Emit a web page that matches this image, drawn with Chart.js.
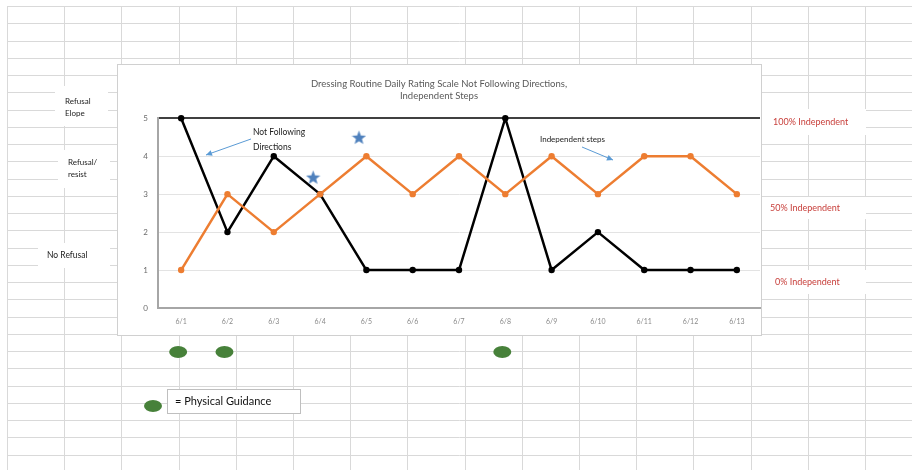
<!DOCTYPE html>
<html><head><meta charset="utf-8">
<script src="https://cdn.jsdelivr.net/npm/chart.js@4/dist/chart.umd.min.js"></script>
<style>html,body{margin:0;padding:0;background:#fff;overflow:hidden}#wrap{position:relative;width:912px;height:470px}</style>
</head><body><div id="wrap"><canvas id="c" width="912" height="470"></canvas></div>
<script>
// ---- data ----
const days = ['6/1','6/2','6/3','6/4','6/5','6/6','6/7','6/8','6/9','6/10','6/11','6/12','6/13'];
const notFollowingDirections = [5,2,4,3,1,1,1,5,1,2,1,1,1];
const independentSteps = [1,3,2,3,4,3,4,3,4,3,4,4,3];
const yTickValues = [0,1,2,3,4,5];
const starDayPos = [2.85, 3.84];
const starRating = [3.45, 4.5];
const physicalGuidanceDays = [0, 1, 7];
const titleLines = ['Dressing Routine Daily Rating Scale Not Following Directions,', 'Independent Steps'];

const FONT = 'Lato, "Open Sans", sans-serif';

function makeStar(size, color) {
  const c = document.createElement('canvas');
  c.width = c.height = size;
  const g = c.getContext('2d');
  g.fillStyle = color;
  g.beginPath();
  for (let i = 0; i < 10; i++) {
    const r = i % 2 ? size * 0.21 : size * 0.5;
    const a = -Math.PI / 2 + i * Math.PI / 5;
    g.lineTo(size / 2 + r * Math.cos(a), size * 0.55 + r * Math.sin(a));
  }
  g.closePath();
  g.fill();
  return c;
}
const starImg = makeStar(15, '#4f81bd');

function rectWhite(ctx, x, y, w, h, border) {
  ctx.fillStyle = '#fff';
  ctx.fillRect(x, y, w, h);
  if (border) {
    ctx.strokeStyle = border; ctx.lineWidth = 1;
    ctx.strokeRect(x + 0.5, y + 0.5, w - 1, h - 1);
  }
}
function arrow(ctx, x1, y1, x2, y2, color) {
  ctx.save();
  ctx.strokeStyle = color; ctx.fillStyle = color; ctx.lineWidth = 1;
  ctx.beginPath(); ctx.moveTo(x1, y1); ctx.lineTo(x2, y2); ctx.stroke();
  const a = Math.atan2(y2 - y1, x2 - x1), L = 6, W = 3;
  ctx.beginPath();
  ctx.moveTo(x2, y2);
  ctx.lineTo(x2 - L * Math.cos(a) + W * Math.sin(a), y2 - L * Math.sin(a) - W * Math.cos(a));
  ctx.lineTo(x2 - L * Math.cos(a) - W * Math.sin(a), y2 - L * Math.sin(a) + W * Math.cos(a));
  ctx.closePath(); ctx.fill();
  ctx.restore();
}
function text(ctx, s, x, y, size, color, align, weight) {
  ctx.font = (weight || 'normal') + ' ' + size + 'px ' + FONT;
  ctx.fillStyle = color; ctx.textAlign = align || 'left'; ctx.textBaseline = 'middle';
  ctx.fillText(s, x, y);
}

const sheetPlugin = {
  id: 'sheet',
  beforeDraw(chart) {
    const ctx = chart.ctx;
    ctx.save();
    ctx.fillStyle = '#fff'; ctx.fillRect(0, 0, 912, 470);
    ctx.strokeStyle = '#d9d9d9'; ctx.lineWidth = 1;
    for (let k = 0; k < 28; k++) {
      const y = Math.round(6 + k * 17.25) + 0.5;
      ctx.beginPath(); ctx.moveTo(7, y); ctx.lineTo(912, y); ctx.stroke();
    }
    for (let k = 0; k < 17; k++) {
      const x = Math.round(7 + k * 57.2) + 0.5;
      ctx.beginPath(); ctx.moveTo(x, 6); ctx.lineTo(x, 470); ctx.stroke();
    }
    // chart box
    rectWhite(ctx, 117, 64, 645, 272, '#d0d0d0');
    // side label boxes
    rectWhite(ctx, 55, 86, 53, 40);
    rectWhite(ctx, 58, 150, 52, 38);
    rectWhite(ctx, 38, 243, 72, 25);
    rectWhite(ctx, 762, 109, 104, 26);
    rectWhite(ctx, 762, 197, 104, 22);
    rectWhite(ctx, 762, 270, 104, 24);
    ctx.restore();
  },
  afterDraw(chart) {
    const ctx = chart.ctx;
    const xs = chart.scales.x;
    ctx.save();
    // physical guidance markers
    ctx.fillStyle = '#47813a';
    physicalGuidanceDays.forEach(d => {
      const x = xs.getPixelForValue(d) - 3;
      ctx.beginPath(); ctx.ellipse(x, 352, 9, 6, 0, 0, Math.PI * 2); ctx.fill();
    });
    // legend
    ctx.beginPath(); ctx.ellipse(153, 406, 9, 6, 0, 0, Math.PI * 2); ctx.fill();
    rectWhite(ctx, 167, 389, 134, 25, '#bfbfbf');
    text(ctx, '= Physical Guidance', 175, 401, 11, '#111', 'left');
    // side labels
    text(ctx, 'Refusal', 65, 101, 8, '#222');
    text(ctx, 'Elope', 65, 113, 8, '#222');
    text(ctx, 'Refusal/', 68, 162, 8, '#222');
    text(ctx, 'resist', 68, 174, 8, '#222');
    text(ctx, 'No Refusal', 47, 255, 8.5, '#222');
    text(ctx, '100% Independent', 773, 122, 9, '#c8403c');
    text(ctx, '50% Independent', 770, 208, 9, '#c8403c');
    text(ctx, '0% Independent', 775, 282, 9, '#c8403c');
    // annotations
    text(ctx, 'Not Following', 253, 132, 8.5, '#222');
    text(ctx, 'Directions', 253, 147, 8.5, '#222');
    arrow(ctx, 251, 139, 206, 155, '#5b9bd5');
    text(ctx, 'Independent steps', 540, 139, 8, '#222');
    arrow(ctx, 582, 147, 613, 160, '#5b9bd5');
    ctx.restore();
  }
};

new Chart(document.getElementById('c'), {
  type: 'line',
  data: {
    labels: days,
    datasets: [
      {
        label: 'Stars', type: 'scatter', xAxisID: 'xs', clip: false,
        data: starDayPos.map((x, i) => ({ x: x, y: starRating[i] })),
        pointStyle: starImg, pointRadius: 7, showLine: false
      },
      {
        label: 'Independent Steps', data: independentSteps, clip: false,
        borderColor: '#ed7d31', backgroundColor: '#ed7d31', borderWidth: 2.5,
        pointRadius: 3.2, pointBackgroundColor: '#ed7d31', pointBorderWidth: 0,
        tension: 0, borderJoinStyle: 'round'
      },
      {
        label: 'Not Following Directions', data: notFollowingDirections, clip: false,
        borderColor: '#000', backgroundColor: '#000', borderWidth: 2.5,
        pointRadius: 3.2, pointBackgroundColor: '#000', pointBorderWidth: 0,
        tension: 0, borderJoinStyle: 'round'
      }
    ]
  },
  options: {
    responsive: false, animation: false,
    layout: { padding: { left: 118, right: 152, top: 64, bottom: 134 } },
    plugins: {
      legend: { display: false }, tooltip: { enabled: false },
      title: {
        display: true, text: titleLines, color: '#595959',
        font: { family: FONT, size: 9.5, weight: 'normal', lineHeight: 1.25 },
        padding: { top: 14, bottom: 16.5 }
      }
    },
    scales: {
      x: {
        offset: true,
        grid: { display: false, drawTicks: false },
        border: { color: '#a6a6a6', width: 2 },
        ticks: { color: '#8a8a8a', font: { family: FONT, size: 7 }, padding: 10, maxRotation: 0, autoSkip: false },
        afterFit(s) { s.height = 28; }
      },
      xs: { type: 'linear', display: false, min: -0.5, max: 12.5 },
      y: {
        min: 0, max: 5,
        afterBuildTicks(s) { s.ticks = yTickValues.map(v => ({ value: v })); },
        grid: {
          drawTicks: false,
          color: c => c.tick && c.tick.value === 5 ? '#404040' : '#e3e3e3',
          lineWidth: c => c.tick && c.tick.value === 5 ? 2 : 1
        },
        border: { color: '#a6a6a6', width: 2 },
        ticks: { color: '#6b6b6b', font: { family: FONT, size: 8 }, padding: 10 },
        afterFit(s) { s.width = 40; }
      }
    }
  },
  plugins: [sheetPlugin]
});
</script>
</body></html>
